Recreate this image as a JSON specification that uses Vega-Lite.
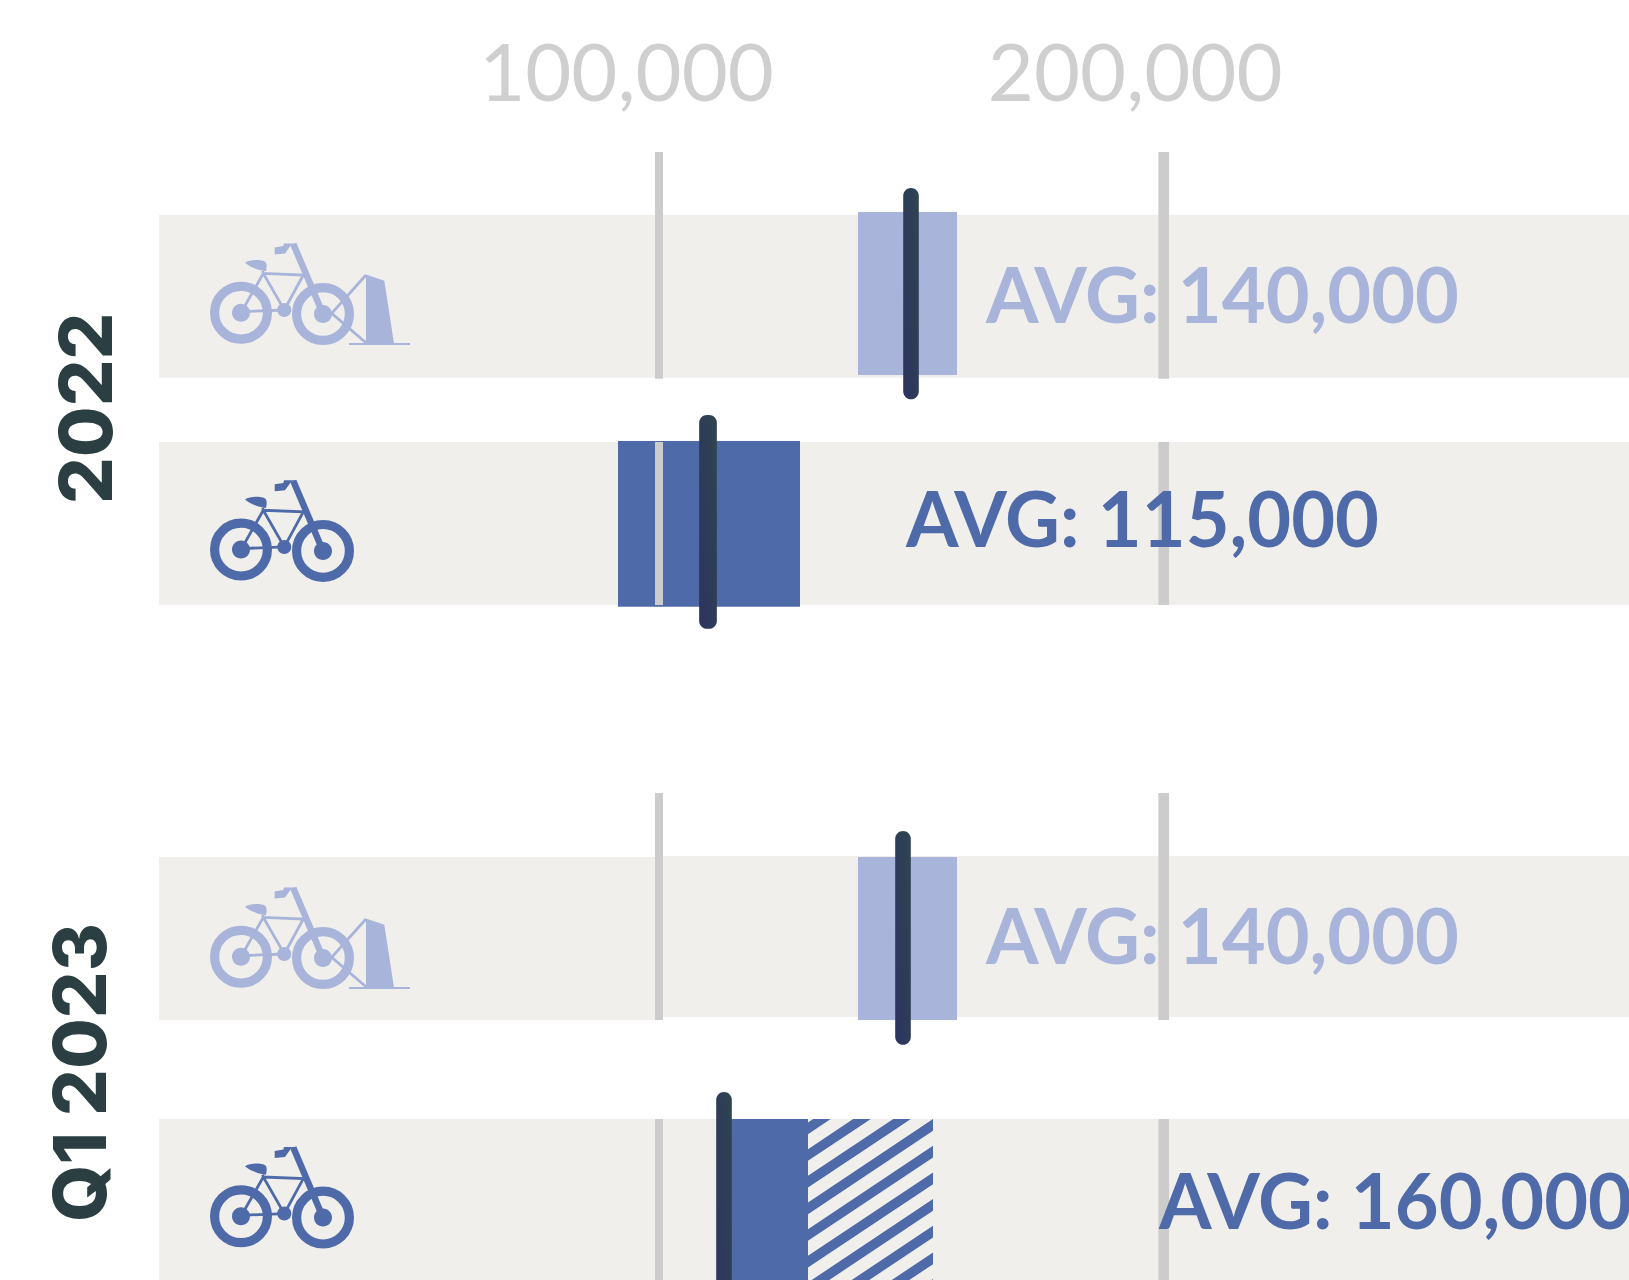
{
"$schema":"https://vega.github.io/schema/vega-lite/v6.json",
"width":1629,"height":1280,"padding":0,"autosize":{"type":"none"},
"background":"#ffffff",
"config":{"view":{"stroke":null}},
"datasets":{
"bands":[
{"x":931,"x2":292193,"top":214.7,"bottom":377.7},
{"x":931,"x2":292193,"top":442,"bottom":605},
{"x":931,"x2":100793,"top":857,"bottom":1020},
{"x":100793,"x2":292193,"top":856,"bottom":1017},
{"x":931,"x2":292193,"top":1119,"bottom":1290}],
"bars":[
{"period":"2022","tone":"light","from":139429,"to":159045,"top":212,"bottom":375},
{"period":"2022","tone":"dark","from":91876,"to":127937,"top":441,"bottom":606.7},
{"period":"Q1 2023","tone":"light","from":139429,"to":159045,"top":857,"bottom":1020},
{"period":"Q1 2023","tone":"dark","from":112879,"to":129523,"top":1119,"bottom":1300}],
"stripes":[
{"s":0,"x":129523,"a":1122.45,"b":1134.15},{"s":0,"x":130553,"a":1119,"b":1130.7},{"s":0,"x":134021,"a":1119,"b":1119},
{"s":1,"x":129523,"a":1149.15,"b":1160.85},{"s":1,"x":138478,"a":1119,"b":1130.7},{"s":1,"x":141966,"a":1119,"b":1119},
{"s":2,"x":129523,"a":1175.85,"b":1187.55},{"s":2,"x":146424,"a":1119,"b":1130.7},{"s":2,"x":149891,"a":1119,"b":1119},
{"s":3,"x":129523,"a":1202.45,"b":1214.15},{"s":3,"x":154290,"a":1119.1,"b":1130.8},
{"s":4,"x":129523,"a":1229.15,"b":1240.85},{"s":4,"x":154290,"a":1145.8,"b":1157.5},
{"s":5,"x":129523,"a":1255.85,"b":1267.55},{"s":5,"x":154290,"a":1172.5,"b":1184.2},
{"s":6,"x":129523,"a":1282.45,"b":1294.15},{"s":6,"x":154290,"a":1199.1,"b":1210.8},
{"s":7,"x":129523,"a":1309.15,"b":1320.85},{"s":7,"x":154290,"a":1225.8,"b":1237.5},
{"s":8,"x":129523,"a":1335.85,"b":1347.55},{"s":8,"x":154290,"a":1252.5,"b":1264.2},
{"s":9,"x":129523,"a":1362.45,"b":1374.15},{"s":9,"x":154290,"a":1279.1,"b":1290.8}],
"grid":[
{"tick":100000,"top":152,"bottom":378.7},{"tick":100000,"top":442,"bottom":605},{"tick":100000,"top":793,"bottom":1020},{"tick":100000,"top":1119,"bottom":1290},
{"tick":200000,"top":152,"bottom":378.7},{"tick":200000,"top":442,"bottom":605},{"tick":200000,"top":793,"bottom":1020},{"tick":200000,"top":1119,"bottom":1290}],
"targets":[
{"row":"a","value":149931,"top":188,"bottom":399.3},
{"row":"b","value":109709,"top":415,"bottom":628.7},
{"row":"c","value":148346,"top":831,"bottom":1044.7},
{"row":"d","value":112879,"top":1092,"bottom":1340}],
"labels":[
{"tone":"light","text":"AVG: 140,000","x":164791,"y":322.7},
{"tone":"dark","text":"AVG: 115,000","x":148940,"y":546.7},
{"tone":"light","text":"AVG: 140,000","x":164791,"y":964.3},
{"tone":"dark","text":"AVG: 160,000","x":199069,"y":1229}],
"years":[
{"text":"2022","x":-8381,"y":408.3},
{"text":"Q1 2023","x":-9570,"y":1072.5}],
"icons":[
{"tone":"light","rack":true,"x":17178,"y":312.7},
{"tone":"dark","rack":false,"x":17178,"y":549.6},
{"tone":"light","rack":true,"x":17178,"y":956.7},
{"tone":"dark","rack":false,"x":17178,"y":1216.3}]
},
"layer":[
{"data":{"name":"bands"},"mark":{"type":"rect","color":"#f0efec"},
 "encoding":{"x":{"field":"x","type":"quantitative","title":null,"scale":{"domain":[-30573,292193],"range":[0,1629],"padding":0,"nice":false,"zero":false},
   "axis":{"orient":"top","values":[100000,200000],"labelExpr":"format(datum.value, ',')","grid":false,"domain":false,"ticks":false,"tickSize":0,"labelPadding":0,"offset":-100.7,"labelBaseline":"alphabetic","labelOffset":{"condition":{"test":"datum.value === 100000","value":-33},"value":-29},"labelFont":"Lato","labelFontWeight":400,"labelFontSize":79.5,"labelColor":"#cfcfcf","labelFlush":false,"labelOverlap":false,"labelLimit":600,"title":null}},
  "x2":{"field":"x2"},
  "y":{"field":"top","type":"quantitative","title":null,"scale":{"domain":[0,1280],"range":[0,1280],"padding":0,"nice":false,"zero":false},"axis":null},
  "y2":{"field":"bottom"}}},
{"data":{"name":"bars"},"mark":{"type":"rect"},
 "encoding":{"x":{"field":"from","type":"quantitative"},"x2":{"field":"to"},"y":{"field":"top","type":"quantitative"},"y2":{"field":"bottom"},
  "color":{"field":"tone","type":"nominal","legend":null,"scale":{"domain":["light","dark"],"range":["#a8b4da","#4f6aa9"]}}}},
{"data":{"name":"stripes"},"mark":{"type":"area","color":"#4f6aa9","clip":true,"interpolate":"linear"},
 "encoding":{"x":{"field":"x","type":"quantitative"},"y":{"field":"a","type":"quantitative","stack":null},"y2":{"field":"b"},"detail":{"field":"s"}}},
{"data":{"name":"grid"},"transform":[{"filter":"datum.tick===100000"}],"mark":{"type":"rule","color":"#cccccc","strokeWidth":8},
 "encoding":{"x":{"field":"tick","type":"quantitative"},"y":{"field":"top","type":"quantitative"},"y2":{"field":"bottom"}}},
{"data":{"name":"grid"},"transform":[{"filter":"datum.tick===200000"}],"mark":{"type":"rule","color":"#cccccc","strokeWidth":10.7},
 "encoding":{"x":{"field":"tick","type":"quantitative"},"y":{"field":"top","type":"quantitative"},"y2":{"field":"bottom"}}},
{"data":{"name":"targets"},"mark":{"type":"bar","orient":"vertical","cornerRadius":7.8,"clip":false,
  "fill":{"gradient":"linear","x1":1,"y1":0,"x2":0,"y2":1,"stops":[{"offset":0,"color":"#2f4550"},{"offset":1,"color":"#2d3360"}]}},
 "encoding":{"x":{"field":"value","type":"quantitative"},"y":{"field":"top","type":"quantitative"},"y2":{"field":"bottom"},
  "size":{"condition":{"test":"datum.row==='b'","value":17.7},"value":15.6}}},
{"data":{"name":"labels"},"mark":{"type":"text","align":"left","baseline":"alphabetic","font":"Lato","fontWeight":700,"fontSize":75.7,"clip":false},
 "encoding":{"x":{"field":"x","type":"quantitative"},"y":{"field":"y","type":"quantitative"},"text":{"field":"text"},"color":{"field":"tone","type":"nominal","legend":null}}},
{"data":{"name":"years"},"mark":{"type":"text","align":"center","baseline":"alphabetic","angle":270,"font":"Inter","fontWeight":800,"fontSize":73.5,"color":"#2b3f42"},
 "encoding":{"x":{"field":"x","type":"quantitative"},"y":{"field":"y","type":"quantitative"},"text":{"field":"text"}}},
{"data":{"name":"icons"},"mark":{"type":"point","filled":false,"opacity":1,"size":40000,"strokeWidth":9.2,"shape":"M-0.264,0C-0.264,-0.146 -0.146,-0.264 0,-0.264C0.146,-0.264 0.264,-0.146 0.264,0C0.264,0.146 0.146,0.264 0,0.264C-0.146,0.264 -0.264,0.146 -0.264,0ZM0.556,0.013C0.556,-0.133 0.674,-0.251 0.82,-0.251C0.966,-0.251 1.084,-0.133 1.084,0.013C1.084,0.159 0.966,0.277 0.82,0.277C0.674,0.277 0.556,0.159 0.556,0.013Z"},
 "encoding":{"x":{"field":"x","type":"quantitative"},"y":{"field":"y","type":"quantitative"},"color":{"field":"tone","type":"nominal","legend":null}}},
{"data":{"name":"icons"},"mark":{"type":"point","filled":false,"opacity":1,"size":40000,"strokeWidth":6.5,"shape":"M0.523,-0.687L0.82,0.013"},
 "encoding":{"x":{"field":"x","type":"quantitative"},"y":{"field":"y","type":"quantitative"},"color":{"field":"tone","type":"nominal","legend":null}}},
{"data":{"name":"icons"},"mark":{"type":"point","filled":false,"opacity":1,"size":40000,"strokeWidth":2.8,"shape":"M0,0L0.223,-0.393L0.623,-0.377L0.433,-0.027L0.223,-0.393M0,-0.01L0.433,-0.027M0.217,-0.417L0.223,-0.393"},
 "encoding":{"x":{"field":"x","type":"quantitative"},"y":{"field":"y","type":"quantitative"},"color":{"field":"tone","type":"nominal","legend":null}}},
{"data":{"name":"icons"},"mark":{"type":"point","filled":true,"opacity":1,"size":40000,"strokeWidth":0,"shape":"M-0.09,0C-0.09,-0.05 -0.05,-0.09 0,-0.09C0.05,-0.09 0.09,-0.05 0.09,0C0.09,0.05 0.05,0.09 0,0.09C-0.05,0.09 -0.09,0.05 -0.09,0ZM0.73,0.013C0.73,-0.037 0.77,-0.077 0.82,-0.077C0.87,-0.077 0.91,-0.037 0.91,0.013C0.91,0.063 0.87,0.103 0.82,0.103C0.77,0.103 0.73,0.063 0.73,0.013ZM0.363,-0.027C0.363,-0.066 0.394,-0.097 0.433,-0.097C0.472,-0.097 0.503,-0.066 0.503,-0.027C0.503,0.012 0.472,0.043 0.433,0.043C0.394,0.043 0.363,0.012 0.363,-0.027ZM0.337,-0.653L0.337,-0.583L0.44,-0.593L0.5,-0.677L0.563,-0.693L0.43,-0.693L0.423,-0.667ZM0.04,-0.5C0.08,-0.53 0.17,-0.535 0.22,-0.52C0.265,-0.51 0.26,-0.47 0.25,-0.415L0.217,-0.42C0.16,-0.43 0.07,-0.47 0.04,-0.5Z"},
 "encoding":{"x":{"field":"x","type":"quantitative"},"y":{"field":"y","type":"quantitative"},"color":{"field":"tone","type":"nominal","legend":null}}},
{"data":{"name":"icons"},"transform":[{"filter":"datum.rack"}],"mark":{"type":"point","filled":true,"opacity":1,"size":40000,"strokeWidth":0,"shape":"M1.25,-0.383L1.433,-0.32L1.53,0.307L1.25,0.307Z"},
 "encoding":{"x":{"field":"x","type":"quantitative"},"y":{"field":"y","type":"quantitative"},"color":{"field":"tone","type":"nominal","legend":null}}},
{"data":{"name":"icons"},"transform":[{"filter":"datum.rack"}],"mark":{"type":"point","filled":false,"opacity":1,"size":40000,"strokeWidth":2.8,"shape":"M1.25,-0.377L0.907,0.007L1.25,0.3"},
 "encoding":{"x":{"field":"x","type":"quantitative"},"y":{"field":"y","type":"quantitative"},"color":{"field":"tone","type":"nominal","legend":null}}},
{"data":{"name":"icons"},"transform":[{"filter":"datum.rack"}],"mark":{"type":"point","filled":false,"opacity":1,"size":40000,"strokeWidth":2,"shape":"M1.08,0.313L1.69,0.313"},
 "encoding":{"x":{"field":"x","type":"quantitative"},"y":{"field":"y","type":"quantitative"},"color":{"field":"tone","type":"nominal","legend":null}}}
]
}
